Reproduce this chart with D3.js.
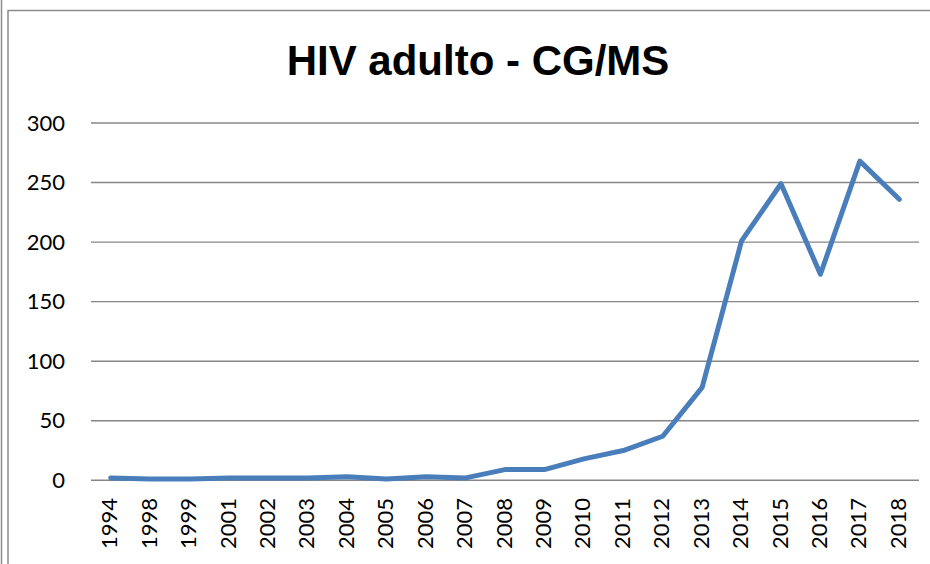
<!DOCTYPE html>
<html>
<head>
<meta charset="utf-8">
<script src="https://cdn.jsdelivr.net/npm/d3@7"></script>
<style>
  body { margin: 0; background: #fff; }
  svg { display: block; }
</style>
</head>
<body>
<div id="container"></div>
<script>
const width = 930;
const height = 564;

const years = ['1994', '1998', '1999', '2001', '2002', '2003', '2004', '2005', '2006', '2007',
    '2008', '2009', '2010', '2011', '2012', '2013', '2014', '2015', '2016', '2017', '2018'];
const cases = [2, 1, 1, 2, 2, 2, 3, 1, 3, 2, 9, 9, 18, 25, 37, 78, 201, 249, 173, 268, 236];
const yTicks = [0, 50, 100, 150, 200, 250, 300];

const margin = { left: 91, right: 11, top: 123, bottom: 83 };
const labelFont = 'Lato, Open Sans, sans-serif';

let svg = d3.select('#container').append('svg')
    .attr('width', width)
    .attr('height', height);

// frame lines
svg.append('line')
    .attr('x1', 1.5).attr('x2', 1.5).attr('y1', 0).attr('y2', height)
    .attr('stroke', '#8c8c8c').attr('stroke-width', 1.5);
svg.append('path')
    .attr('d', `M8,${height} V10.5 H${width}`)
    .attr('fill', 'none')
    .attr('stroke', '#8c8c8c').attr('stroke-width', 1.5);

let x = d3.scalePoint()
    .domain(years)
    .range([margin.left, width - margin.right])
    .padding(0.5);

let y = d3.scaleLinear()
    .domain([0, 300])
    .range([height - margin.bottom - 0.7, margin.top]);

// gridlines
svg.append('g')
    .selectAll('line')
    .data(yTicks)
    .join('line')
    .attr('x1', margin.left)
    .attr('x2', width - margin.right)
    .attr('y1', d => y(d))
    .attr('y2', d => y(d))
    .attr('stroke', '#868686')
    .attr('stroke-width', 1.4);

// y labels
svg.append('g')
    .selectAll('text')
    .data(yTicks)
    .join('text')
    .attr('x', 65)
    .attr('y', d => y(d) + 7.5)
    .attr('text-anchor', 'end')
    .attr('font-family', labelFont)
    .attr('font-size', 22)
    .attr('fill', '#000')
    .text(d => d);

// x labels, rotated
svg.append('g')
    .selectAll('text')
    .data(years)
    .join('text')
    .attr('transform', d => `translate(${x(d) + 6.5},498) rotate(-90)`)
    .attr('text-anchor', 'end')
    .attr('font-family', labelFont)
    .attr('font-size', 22)
    .attr('fill', '#000')
    .text(d => d);

// line
let line = d3.line()
    .x((d, i) => x(years[i]))
    .y(d => y(d));

svg.append('path')
    .datum(cases)
    .attr('d', line)
    .attr('fill', 'none')
    .attr('stroke', '#4a7ebb')
    .attr('stroke-width', 5)
    .attr('stroke-linejoin', 'round')
    .attr('stroke-linecap', 'round');

// title
svg.append('text')
    .attr('x', 478)
    .attr('y', 75)
    .attr('text-anchor', 'middle')
    .attr('font-family', 'Liberation Sans, Arial, sans-serif')
    .attr('font-weight', 'bold')
    .attr('font-size', 42)
    .attr('fill', '#000')
    .text('HIV adulto - CG/MS');
</script>
</body>
</html>
